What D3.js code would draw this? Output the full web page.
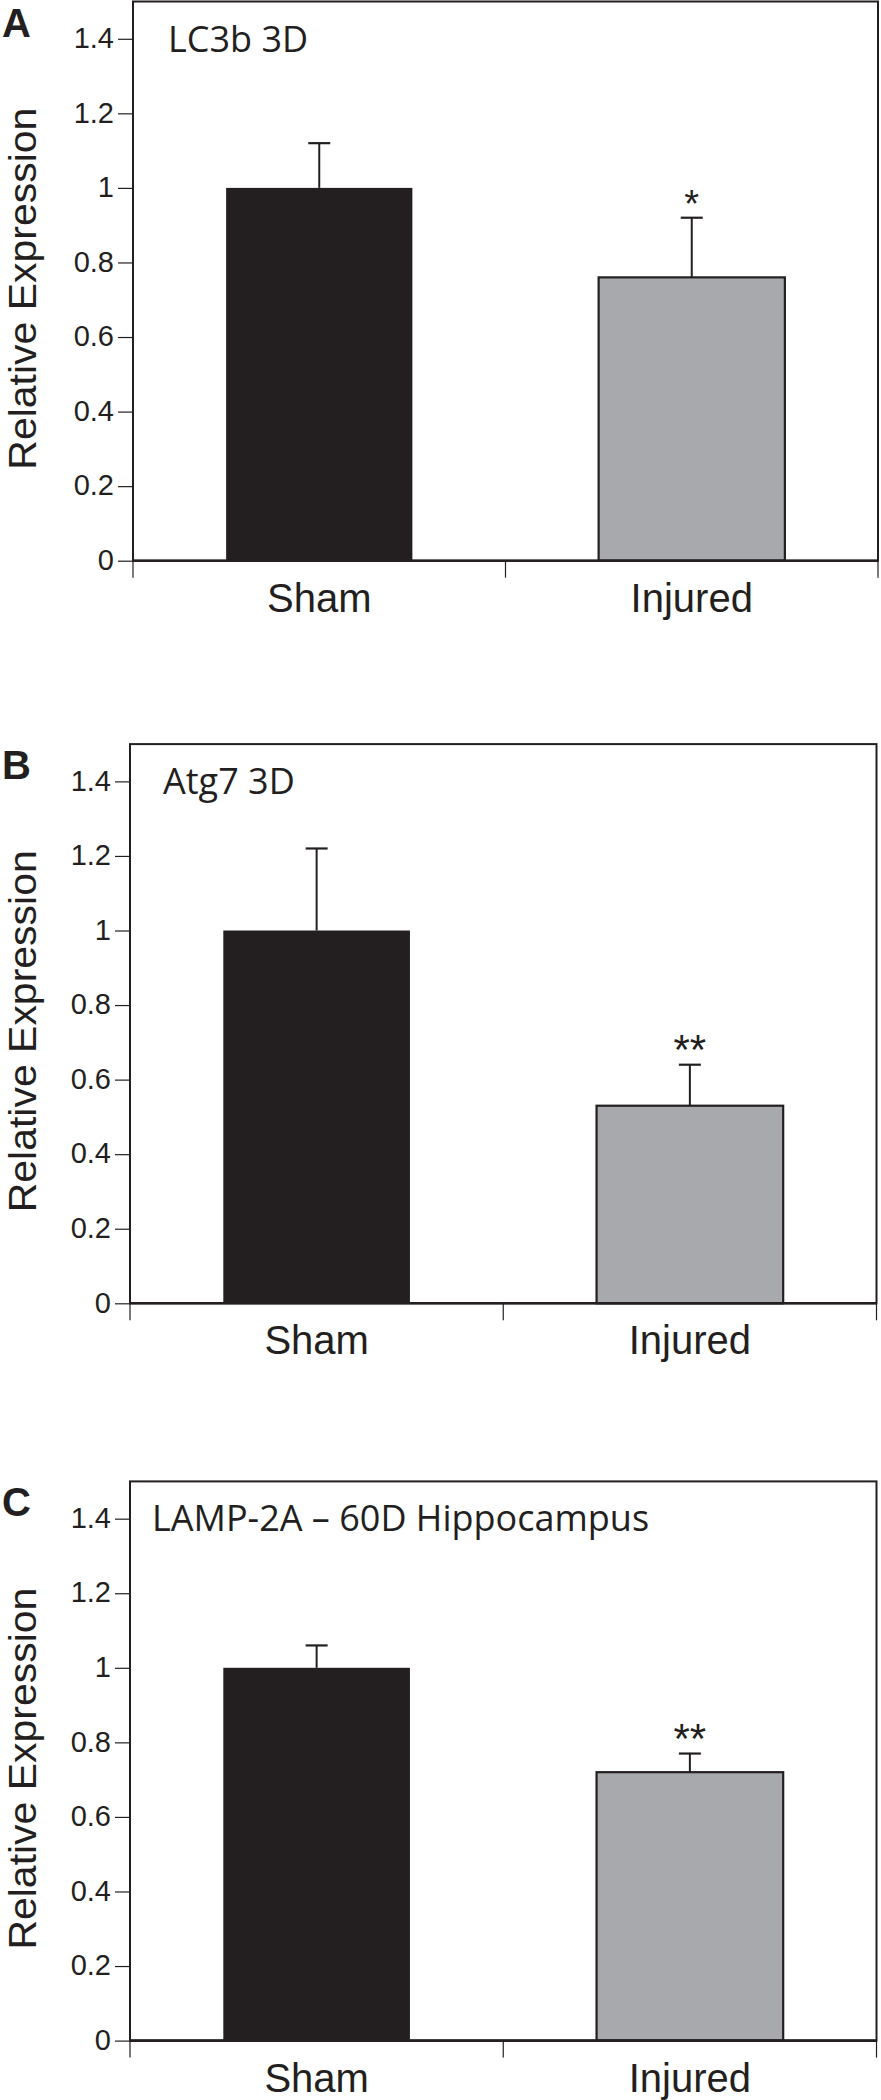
<!DOCTYPE html>
<html>
<head>
<meta charset="utf-8">
<script src="https://cdn.jsdelivr.net/npm/d3@7"></script>
<style>
  html, body { margin: 0; padding: 0; background: #fff; }
  svg { display: block; }
</style>
</head>
<body>
<svg id="chart" width="881" height="2100"></svg>
<script>
// ---- data ----
const categories = ["Sham", "Injured"];
const yTicks = [0, 0.2, 0.4, 0.6, 0.8, 1, 1.2, 1.4];
const yTickLabels = ["0", "0.2", "0.4", "0.6", "0.8", "1", "1.2", "1.4"];
const panelLetters = ["A", "B", "C"];
const panelTitles = ["LC3b 3D", "Atg7 3D", "LAMP-2A \u2013 60D Hippocampus"];
const lc3bMeans = [1.0, 0.76];
const lc3bErrors = [0.12, 0.16];
const atg7Means = [1.0, 0.53];
const atg7Errors = [0.22, 0.11];
const lamp2aMeans = [1.0, 0.72];
const lamp2aErrors = [0.06, 0.05];
const lc3bSig = ["", "*"];
const atg7Sig = ["", "**"];
const lamp2aSig = ["", "**"];
const yAxisLabel = "Relative Expression";

// ---- layout ----
const panels = [
  { letter: panelLetters[0], title: panelTitles[0], means: lc3bMeans, errs: lc3bErrors, sig: lc3bSig,
    x0: 133, x1: 878, zeroY: 560.7, titleDx: 35 },
  { letter: panelLetters[1], title: panelTitles[1], means: atg7Means, errs: atg7Errors, sig: atg7Sig,
    x0: 130, x1: 876.5, zeroY: 1303.3, titleDx: 33 },
  { letter: panelLetters[2], title: panelTitles[2], means: lamp2aMeans, errs: lamp2aErrors, sig: lamp2aSig,
    x0: 130, x1: 876.5, zeroY: 2040.6, titleDx: 22 }
];
const pxPerUnit = 372.8;
const dark = "#231f20";
const fills = ["#231f20", "#a7a9ac"];
const svg = d3.select("#chart");

panels.forEach(p => {
  const g = svg.append("g");
  const y = d3.scaleLinear().domain([0, 1.5]).range([p.zeroY, p.zeroY - 1.5 * pxPerUnit]);
  const x = d3.scaleBand().domain(categories).range([p.x0, p.x1]).paddingInner(0.5).paddingOuter(0.25);

  // bars
  g.selectAll("rect.bar").data(categories).enter().append("rect")
    .attr("x", d => x(d))
    .attr("width", x.bandwidth())
    .attr("y", (d, i) => y(p.means[i]))
    .attr("height", (d, i) => y(0) - y(p.means[i]))
    .attr("fill", (d, i) => fills[i])
    .attr("stroke", dark)
    .attr("stroke-width", (d, i) => i === 0 ? 0 : 2.2);

  // error bars
  categories.forEach((c, i) => {
    const cx = x(c) + x.bandwidth() / 2;
    const top = p.means[i] + p.errs[i];
    g.append("line").attr("x1", cx).attr("x2", cx)
      .attr("y1", y(p.means[i])).attr("y2", y(top))
      .attr("stroke", dark).attr("stroke-width", 2);
    g.append("line").attr("x1", cx - 11).attr("x2", cx + 11)
      .attr("y1", y(top)).attr("y2", y(top))
      .attr("stroke", dark).attr("stroke-width", 2.2);
    if (p.sig[i]) {
      g.append("text").attr("x", cx).attr("y", y(top) - 1)
        .attr("text-anchor", "middle")
        .attr("font-family", "Liberation Sans, Arial, sans-serif")
        .attr("font-size", p.sig[i].length > 1 ? 42 : 38)
        .attr("fill", dark)
        .text(p.sig[i]);
    }
  });

  // frame
  g.append("rect")
    .attr("x", p.x0).attr("y", y(1.5))
    .attr("width", p.x1 - p.x0).attr("height", y(0) - y(1.5))
    .attr("fill", "none").attr("stroke", dark).attr("stroke-width", 2);
  // thicker baseline
  g.append("line").attr("x1", p.x0).attr("x2", p.x1)
    .attr("y1", y(0)).attr("y2", y(0))
    .attr("stroke", dark).attr("stroke-width", 2.6);

  // y axis
  const yAxis = d3.axisLeft(y).tickValues(yTicks)
    .tickFormat((d, i) => yTickLabels[i]).tickSize(15).tickPadding(4);
  const ya = g.append("g").attr("transform", `translate(${p.x0},0)`).call(yAxis);
  ya.select(".domain").remove();
  ya.selectAll(".tick line").attr("stroke", dark).attr("stroke-width", 1.2);
  ya.selectAll(".tick text")
    .attr("font-family", "Liberation Sans, Arial, sans-serif")
    .attr("font-size", 29).attr("fill", dark).attr("dy", "0.3em");

  // x axis: ticks at band boundaries, labels at band centers
  const xBounds = [p.x0, (p.x0 + p.x1) / 2, p.x1];
  g.selectAll("line.xt").data(xBounds).enter().append("line")
    .attr("x1", d => d).attr("x2", d => d)
    .attr("y1", y(0)).attr("y2", y(0) + 17)
    .attr("stroke", dark).attr("stroke-width", 1.2);
  g.selectAll("text.xl").data(categories).enter().append("text")
    .attr("x", d => x(d) + x.bandwidth() / 2)
    .attr("y", y(0) + 51)
    .attr("text-anchor", "middle")
    .attr("font-family", "Liberation Sans, Arial, sans-serif")
    .attr("font-size", 40).attr("fill", dark)
    .text(d => d);

  // y axis label
  g.append("text")
    .attr("transform", `translate(36,${y(0) - 272}) rotate(-90)`)
    .attr("text-anchor", "middle")
    .attr("font-family", "Liberation Sans, Arial, sans-serif")
    .attr("font-size", 38).attr("fill", dark)
    .attr("textLength", 362).attr("lengthAdjust", "spacingAndGlyphs")
    .text(yAxisLabel);

  // panel letter
  g.append("text")
    .attr("x", 2).attr("y", y(1.5) + 35)
    .attr("font-family", "Liberation Sans, Arial, sans-serif")
    .attr("font-weight", "bold")
    .attr("font-size", 40).attr("fill", dark)
    .text(p.letter);

  // panel title
  g.append("text")
    .attr("x", p.x0 + p.titleDx)
    .attr("y", y(1.5) + 50)
    .attr("font-family", "Open Sans, Noto Sans, sans-serif")
    .attr("font-size", 36).attr("fill", dark)
    .text(p.title);
});
</script>
</body>
</html>
